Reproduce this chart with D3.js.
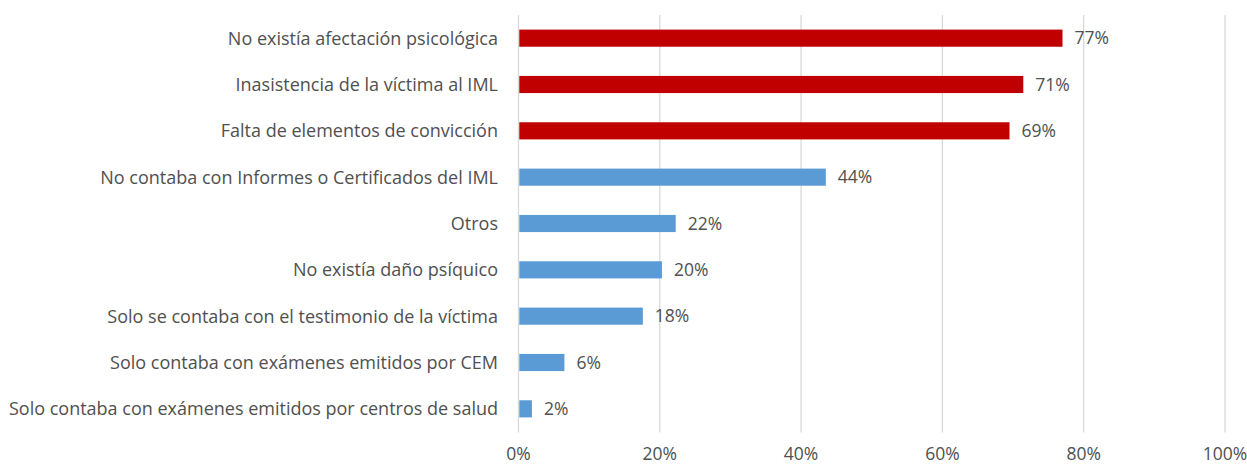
<!DOCTYPE html>
<html lang="es">
<head>
<meta charset="UTF-8">
<title>Motivos</title>
<style>
  body { margin: 0; background: #fff; }
  text { font-family: "Open Sans", sans-serif; fill: #505050; }
  .grid line { stroke: #d9d9d9; stroke-width: 1.3px; }
</style>
</head>
<body>
<svg width="1247" height="466"></svg>
<script src="https://d3js.org/d3.v7.min.js"></script>
<script>
  var categories = [
    "No existía afectación psicológica",
    "Inasistencia de la víctima al IML",
    "Falta de elementos de convicción",
    "No contaba con Informes o Certificados del IML",
    "Otros",
    "No existía daño psíquico",
    "Solo se contaba con el testimonio de la víctima",
    "Solo contaba con exámenes emitidos por CEM",
    "Solo contaba con exámenes emitidos por centros de salud"
  ];
  // bar lengths; labels show the rounded percentage
  var values = [77.0, 71.45, 69.5, 43.5, 22.25, 20.3, 17.6, 6.5, 1.9];
  var labels = ["77%", "71%", "69%", "44%", "22%", "20%", "18%", "6%", "2%"];
  var highlighted = [true, true, true, false, false, false, false, false, false];
  var ticks = [0, 20, 40, 60, 80, 100];

  var svg = d3.select("svg");

  var x = d3.scaleLinear().domain([0, 100]).range([518.5, 1225]);
  var y = d3.scaleBand().domain(categories).range([15, 432]).paddingInner(0.63).paddingOuter(0.315);

  // grid
  svg.append("g").attr("class", "grid")
    .selectAll("line")
    .data(ticks)
    .enter()
    .append("line")
    .attr("x1", (d) => x(d))
    .attr("x2", (d) => x(d))
    .attr("y1", 15)
    .attr("y2", 432.5);

  // bars
  svg.selectAll(".bar")
    .data(values)
    .enter()
    .append("rect")
    .attr("class", "bar")
    .attr("x", x(0) + 0.8)
    .attr("y", (d, i) => y(categories[i]))
    .attr("width", (d) => x(d) - x(0) - 0.8)
    .attr("height", y.bandwidth())
    .style("fill", (d, i) => highlighted[i] ? "#c00000" : "#5b9bd5");

  // value labels
  svg.selectAll(".val")
    .data(values)
    .enter()
    .append("text")
    .attr("class", "val")
    .attr("x", (d) => x(d) + 12)
    .attr("y", (d, i) => y(categories[i]) + y.bandwidth() / 2)
    .attr("dy", "0.36em")
    .style("font-size", "17.5px")
    .text((d, i) => labels[i]);

  // category labels
  svg.selectAll(".cat")
    .data(categories)
    .enter()
    .append("text")
    .attr("class", "cat")
    .attr("x", 498)
    .attr("y", (d) => y(d) + y.bandwidth() / 2)
    .attr("dy", "0.36em")
    .style("text-anchor", "end")
    .style("font-size", "18px")
    .text((d) => d);

  // x tick labels
  svg.selectAll(".tick-label")
    .data(ticks)
    .enter()
    .append("text")
    .attr("class", "tick-label")
    .attr("x", (d) => x(d))
    .attr("y", 454)
    .attr("dy", "0.36em")
    .style("text-anchor", "middle")
    .style("font-size", "17.5px")
    .text((d) => d + "%");
</script>
</body>
</html>
